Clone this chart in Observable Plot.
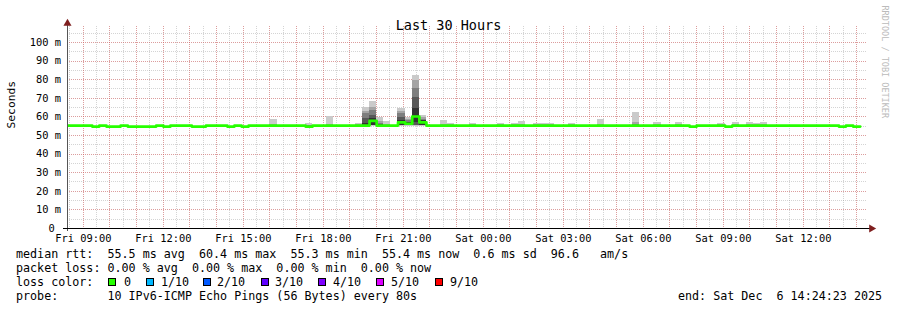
<!DOCTYPE html>
<html><head><meta charset="utf-8">
<script src="https://cdn.jsdelivr.net/npm/d3@7"></script>
<script src="https://cdn.jsdelivr.net/npm/@observablehq/plot@0.6"></script>
<style>
body{margin:0;background:#fff;}
#wrap{position:relative;width:897px;height:310px;background:#fff;font-family:"DejaVu Sans Mono",monospace;overflow:hidden;}
#wrap svg{display:block;}
.lg{position:absolute;font-size:11.7px;line-height:14px;white-space:pre;color:#000;}
.box{position:absolute;width:6px;height:6px;border:1px solid #000;top:278px;}
</style></head><body><div id="wrap"></div>
<script>
// ---- data ----
const chartTitle = "Last 30 Hours";
const chartStart = new Date(2025, 11, 5, 8, 24, 23);
const chartEnd = new Date(2025, 11, 6, 14, 24, 23);
const firstBucketStart = new Date(2025, 11, 5, 8, 16); // 960 s consolidated buckets
const bucketMinutes = 16;

// median RTT (ms) per bucket
const medianRtt = [
  55.3,55.3,55.3,55.3,54.8,55.3,54.8,54.8,55.3,54.8,54.8,54.8,54.8,55.3,54.8,55.3,
  55.3,55.3,54.8,54.8,55.3,55.3,55.3,54.8,55.3,54.8,55.3,55.3,55.3,55.3,55.3,55.3,
  55.3,55.3,54.8,55.3,55.3,55.3,55.3,55.3,55.3,55.3,55.3,57.8,55.3,55.3,55.3,57.0,
  56.3,60.2,57.0,55.3,55.3,55.3,55.3,55.3,55.3,55.3,55.3,55.3,55.3,55.3,55.3,55.3,
  55.3,55.3,55.3,55.3,55.3,55.3,55.3,55.3,55.3,55.3,55.3,55.3,55.3,55.3,55.3,55.3,
  55.3,55.3,55.3,55.3,55.3,55.3,55.3,55.3,54.8,55.3,55.3,55.3,55.3,54.8,55.3,55.3,
  55.3,55.3,55.3,55.3,55.3,55.3,55.3,55.3,55.3,55.3,55.3,55.3,55.3,54.8,55.3,54.8
];

// smoke: bucket index and 10 sorted ping times (ms)
const smokeBuckets = [29,34,37,41,42,43,44,45,47,48,49,50,53,54,57,61,63,64,66,67,68,71,75,80,83,86,92,94,96,97,98];
const smokePings = [
  [55.0,55.1,55.2,55.2,55.3,55.3,55.4,55.5,55.7,58.7],
  [54.6,54.7,54.7,54.8,54.8,54.9,55.0,55.2,55.6,56.4],
  [55.0,55.1,55.2,55.2,55.3,55.3,55.4,55.5,55.7,60.2],
  [55.0,55.1,55.2,55.2,55.3,55.3,55.4,55.5,55.7,56.5],
  [55.0,55.1,55.2,55.3,55.4,56.3,59.1,61.7,62.9,65.0],
  [55.0,55.1,55.2,55.3,55.4,59.0,60.75,63.4,65.2,68.3],
  [55.0,55.1,55.2,55.3,55.4,55.7,56.0,56.5,57.5,59.7],
  [55.0,55.1,55.2,55.2,55.3,55.3,55.4,55.5,55.9,57.5],
  [55.0,55.1,55.2,55.3,55.4,58.0,59.8,61.8,63.1,64.7],
  [55.0,55.1,55.2,55.3,55.6,56.8,57.2,57.8,58.5,59.8],
  [55.0,55.1,55.2,55.3,56.8,64.5,70.5,75.5,79.3,82.2],
  [55.0,55.1,55.2,55.3,55.4,58.0,58.3,58.6,59.5,60.8],
  [55.0,55.1,55.2,55.2,55.3,55.3,55.4,55.5,55.7,58.0],
  [55.0,55.1,55.2,55.2,55.3,55.3,55.4,55.5,55.7,56.6],
  [55.0,55.1,55.2,55.2,55.3,55.3,55.4,55.5,55.7,56.4],
  [55.0,55.1,55.2,55.2,55.3,55.3,55.4,55.5,55.7,56.4],
  [55.0,55.1,55.2,55.2,55.3,55.3,55.4,55.5,55.7,56.4],
  [55.0,55.1,55.2,55.2,55.3,55.3,55.4,55.5,55.7,57.7],
  [55.0,55.1,55.2,55.2,55.3,55.3,55.4,55.5,55.7,56.4],
  [55.0,55.1,55.2,55.2,55.3,55.3,55.4,55.5,55.7,56.4],
  [55.0,55.1,55.2,55.2,55.3,55.3,55.4,55.5,55.7,56.4],
  [55.0,55.1,55.2,55.2,55.3,55.3,55.4,55.5,55.7,56.4],
  [55.0,55.1,55.2,55.2,55.3,55.3,55.4,55.5,55.7,58.8],
  [55.0,55.1,55.2,55.3,55.3,55.4,55.5,55.7,56.9,62.5],
  [55.0,55.1,55.2,55.2,55.3,55.3,55.4,55.5,55.7,57.1],
  [55.0,55.1,55.2,55.2,55.3,55.3,55.4,55.5,55.7,57.0],
  [55.0,55.1,55.2,55.2,55.3,55.3,55.4,55.5,55.7,56.4],
  [55.0,55.1,55.2,55.2,55.3,55.3,55.4,55.5,55.7,57.0],
  [55.0,55.1,55.2,55.2,55.3,55.3,55.4,55.5,55.7,57.0],
  [55.0,55.1,55.2,55.2,55.3,55.3,55.4,55.5,55.7,56.4],
  [55.0,55.1,55.2,55.2,55.3,55.3,55.4,55.5,55.7,57.0]
];
const smokeShades = ["#cacaca","#a4a4a4","#7e7e7e","#585858","#323232"];

const xTickTimes = [
  new Date(2025,11,5,9), new Date(2025,11,5,12), new Date(2025,11,5,15), new Date(2025,11,5,18),
  new Date(2025,11,5,21), new Date(2025,11,6,0), new Date(2025,11,6,3), new Date(2025,11,6,6),
  new Date(2025,11,6,9), new Date(2025,11,6,12)
];
const xTickLabels = ["Fri 09:00","Fri 12:00","Fri 15:00","Fri 18:00","Fri 21:00","Sat 00:00","Sat 03:00","Sat 06:00","Sat 09:00","Sat 12:00"];
const yTicks = [0,10,20,30,40,50,60,70,80,90,100];
const yTickLabels = ["0\u00a0","10 m","20 m","30 m","40 m","50 m","60 m","70 m","80 m","90 m","100 m"];
const yMax = 107.5;

const lossLabels = ["0","1/10","2/10","3/10","4/10","5/10","9/10"];
const lossColors = ["#26ff00","#00b8ff","#0059ff","#5e00ff","#7e00ff","#dd00ff","#ff0000"];
const statLine1 = "median rtt:  55.5 ms avg  60.4 ms max  55.3 ms min  55.4 ms now  0.6 ms sd  96.6   am/s";
const statLine2 = "packet loss: 0.00 % avg  0.00 % max  0.00 % min  0.00 % now";
const probeLine = "probe:       10 IPv6-ICMP Echo Pings (56 Bytes) every 80s";
const endLine = "end: Sat Dec  6 14:24:23 2025";
const watermark = "RRDTOOL / TOBI OETIKER";

// ---- build ----
const bucketTime = j => new Date(firstBucketStart.getTime() + j * bucketMinutes * 60000);
const medianPts = medianRtt.map((v, j) => ({t: bucketTime(j), v}));
medianPts.push({t: bucketTime(medianRtt.length), v: medianRtt[medianRtt.length - 1]});

const smokeBands = [];
smokeBuckets.forEach((j, n) => {
  const p = smokePings[n];
  for (let i = 0; i < p.length - 1; i++) {
    smokeBands.push({x1: bucketTime(j), x2: bucketTime(j + 1), y1: p[i], y2: p[i + 1],
      shade: smokeShades[4 - Math.abs(i - 4)]});
  }
});

const minorX = d3.timeMinute.every(30).range(chartStart, chartEnd);
const majorX = d3.timeHour.every(1).range(chartStart, chartEnd);
const minorY = d3.range(5, yMax, 5);
const majorY = d3.range(10, yMax, 10);
const gridGray = "rgba(143,143,143,0.38)";
const gridRed = "rgba(230,80,80,0.42)";
const arrowColor = "#7f1f1f";

const chart = Plot.plot({
  width: 897, height: 245,
  marginLeft: 67, marginRight: 30, marginTop: 28, marginBottom: 17,
  style: {fontFamily: "DejaVu Sans Mono", fontSize: "10.4px", color: "#000", background: "#fff", overflow: "visible"},
  x: {type: "time", domain: [chartStart, chartEnd]},
  y: {domain: [0, yMax]},
  color: {type: "identity"},
  marks: [
    Plot.ruleY(minorY, {stroke: gridGray, strokeDasharray: "1,1", shapeRendering: "crispEdges"}),
    Plot.ruleX(minorX, {stroke: gridGray, strokeDasharray: "1,1", shapeRendering: "crispEdges", insetTop: -2}),
    Plot.ruleY(majorY, {stroke: gridRed, strokeDasharray: "1,1", shapeRendering: "crispEdges"}),
    Plot.ruleX(majorX, {stroke: gridRed, strokeDasharray: "1,1", shapeRendering: "crispEdges", insetTop: -2}),
    Plot.rect(smokeBands, {x1: "x1", x2: "x2", y1: "y1", y2: "y2", fill: "shade", shapeRendering: "crispEdges", clip: true}),
    Plot.line(medianPts, {x: "t", y: "v", curve: "step-after", stroke: "#26ff00", strokeWidth: 2.7, clip: true}),
    Plot.ruleX([chartStart], {stroke: "#555", insetTop: -6, insetBottom: -3, shapeRendering: "crispEdges"}),
    Plot.ruleY([0], {stroke: "#000", insetLeft: -4, insetRight: -3, shapeRendering: "crispEdges"}),
    Plot.dot([0], {frameAnchor: "top-left", symbol: "triangle", r: 3, fill: arrowColor, stroke: null, dy: -5}),
    Plot.dot([0], {frameAnchor: "bottom-right", symbol: "triangle", r: 3, rotate: 90, fill: arrowColor, stroke: null, dx: 4}),
    Plot.axisY({ticks: yTicks, tickFormat: (d, i) => yTickLabels[i], tickSize: 0, tickPadding: 6.5, label: null, fill: "#000"}),
    Plot.axisX({ticks: xTickTimes, tickFormat: (d, i) => xTickLabels[i], tickSize: 0, tickPadding: 6, label: null, fill: "#000"}),
    Plot.text([chartTitle], {frameAnchor: "top", dx: -19, dy: -8.5, fontSize: 13.5, fill: "#000"}),
    Plot.text(["Seconds"], {frameAnchor: "left", rotate: -90, dx: -56, fontSize: 11.3, fill: "#000"}),
    Plot.text([watermark], {frameAnchor: "top-right", rotate: 90, textAnchor: "start", dx: 21, dy: -23, fontSize: 8.5, fill: "#bbb"})
  ]
});

const wrap = document.getElementById("wrap");
wrap.appendChild(chart);

function addText(str, left, top) {
  const d = document.createElement("div");
  d.className = "lg"; d.textContent = str;
  d.style.left = left + "px"; d.style.top = top + "px";
  wrap.appendChild(d);
}
addText(statLine1, 16, 247.4);
addText(statLine2, 16, 261.4);
addText("loss color:", 16, 275.4);
const boxX = [108, 146, 203, 261, 318, 376, 435];
const labX = [124, 161, 217, 275, 333, 391, 450];
lossLabels.forEach((lab, i) => {
  const b = document.createElement("div");
  b.className = "box"; b.style.left = boxX[i] + "px"; b.style.background = lossColors[i];
  wrap.appendChild(b);
  addText(lab, labX[i], 275.4);
});
addText(probeLine, 16, 289.4);
addText(endLine, 678, 289.4);
</script></body></html>
